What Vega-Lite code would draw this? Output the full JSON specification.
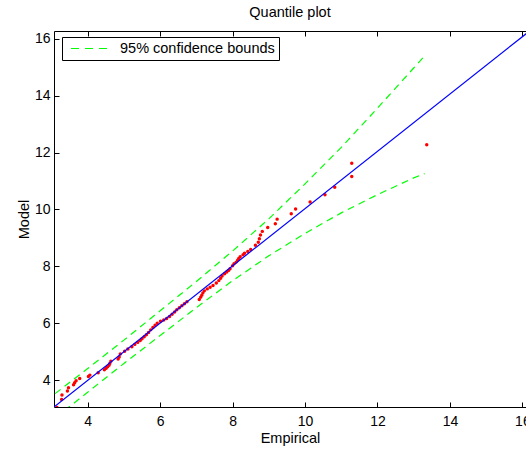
{
  "$schema": "https://vega.github.io/schema/vega-lite/v6.json",
  "width": 472,
  "height": 376,
  "autosize": {"type": "none"},
  "padding": {"left": 54, "top": 31, "right": 0, "bottom": 42},
  "title": {"text": "Quantile plot", "fontSize": 14.5, "fontWeight": "normal", "font": "Liberation Sans", "color": "black", "offset": 10},
  "datasets": {
    "pts": [
      {"x": 3.15, "y": 3.04}, {"x": 3.28, "y": 3.32}, {"x": 3.29, "y": 3.48}, {"x": 3.44, "y": 3.62},
      {"x": 3.47, "y": 3.74}, {"x": 3.61, "y": 3.84}, {"x": 3.64, "y": 3.91}, {"x": 3.68, "y": 3.98},
      {"x": 3.78, "y": 4.06}, {"x": 4.02, "y": 4.13}, {"x": 4.06, "y": 4.18}, {"x": 4.29, "y": 4.26},
      {"x": 4.46, "y": 4.37}, {"x": 4.51, "y": 4.42}, {"x": 4.55, "y": 4.47}, {"x": 4.59, "y": 4.53},
      {"x": 4.61, "y": 4.59}, {"x": 4.64, "y": 4.67}, {"x": 4.84, "y": 4.75}, {"x": 4.87, "y": 4.82},
      {"x": 4.9, "y": 4.92}, {"x": 5.02, "y": 5.02}, {"x": 5.11, "y": 5.1}, {"x": 5.22, "y": 5.18},
      {"x": 5.3, "y": 5.26}, {"x": 5.38, "y": 5.33}, {"x": 5.45, "y": 5.4}, {"x": 5.5, "y": 5.46},
      {"x": 5.56, "y": 5.53}, {"x": 5.62, "y": 5.6}, {"x": 5.68, "y": 5.68}, {"x": 5.74, "y": 5.77},
      {"x": 5.8, "y": 5.85}, {"x": 5.86, "y": 5.93}, {"x": 5.92, "y": 6.0}, {"x": 6.01, "y": 6.07},
      {"x": 6.1, "y": 6.12}, {"x": 6.18, "y": 6.17}, {"x": 6.26, "y": 6.24}, {"x": 6.33, "y": 6.32},
      {"x": 6.4, "y": 6.4}, {"x": 6.46, "y": 6.48}, {"x": 6.53, "y": 6.55}, {"x": 6.6, "y": 6.62},
      {"x": 6.67, "y": 6.69}, {"x": 6.74, "y": 6.76}, {"x": 7.08, "y": 6.84}, {"x": 7.12, "y": 6.92},
      {"x": 7.15, "y": 6.99}, {"x": 7.18, "y": 7.07}, {"x": 7.22, "y": 7.14}, {"x": 7.3, "y": 7.21},
      {"x": 7.38, "y": 7.27}, {"x": 7.46, "y": 7.33}, {"x": 7.55, "y": 7.42}, {"x": 7.62, "y": 7.5},
      {"x": 7.67, "y": 7.58}, {"x": 7.71, "y": 7.66}, {"x": 7.78, "y": 7.74}, {"x": 7.84, "y": 7.8},
      {"x": 7.89, "y": 7.86}, {"x": 7.93, "y": 7.92}, {"x": 8.0, "y": 8.02}, {"x": 8.04, "y": 8.09},
      {"x": 8.1, "y": 8.15}, {"x": 8.14, "y": 8.22}, {"x": 8.17, "y": 8.28}, {"x": 8.21, "y": 8.34},
      {"x": 8.29, "y": 8.41}, {"x": 8.33, "y": 8.46}, {"x": 8.42, "y": 8.52}, {"x": 8.5, "y": 8.59},
      {"x": 8.63, "y": 8.74}, {"x": 8.71, "y": 8.85}, {"x": 8.74, "y": 8.97}, {"x": 8.77, "y": 9.1},
      {"x": 8.82, "y": 9.23}, {"x": 8.97, "y": 9.37}, {"x": 9.18, "y": 9.5}, {"x": 9.23, "y": 9.66},
      {"x": 9.62, "y": 9.85}, {"x": 9.74, "y": 10.02}, {"x": 10.14, "y": 10.26}, {"x": 10.55, "y": 10.52},
      {"x": 10.82, "y": 10.78}, {"x": 11.29, "y": 11.16}, {"x": 11.29, "y": 11.62}, {"x": 13.36, "y": 12.27}
    ],
    "ref": [
      {"x": 3.0, "y": 2.99}, {"x": 16.3, "y": 16.37}
    ],
    "bounds": [
      {"x": 3.1, "y": 3.53, "bound": "upper", "series": "95% confidence bounds"},
      {"x": 4, "y": 4.41, "bound": "upper", "series": "95% confidence bounds"},
      {"x": 5, "y": 5.41, "bound": "upper", "series": "95% confidence bounds"},
      {"x": 6, "y": 6.44, "bound": "upper", "series": "95% confidence bounds"},
      {"x": 7, "y": 7.47, "bound": "upper", "series": "95% confidence bounds"},
      {"x": 8, "y": 8.54, "bound": "upper", "series": "95% confidence bounds"},
      {"x": 9, "y": 9.67, "bound": "upper", "series": "95% confidence bounds"},
      {"x": 10, "y": 10.9, "bound": "upper", "series": "95% confidence bounds"},
      {"x": 11, "y": 12.18, "bound": "upper", "series": "95% confidence bounds"},
      {"x": 12, "y": 13.56, "bound": "upper", "series": "95% confidence bounds"},
      {"x": 13, "y": 14.97, "bound": "upper", "series": "95% confidence bounds"},
      {"x": 13.3, "y": 15.39, "bound": "upper", "series": "95% confidence bounds"},
      {"x": 3.1, "y": 2.67, "bound": "lower", "series": "95% confidence bounds"},
      {"x": 4, "y": 3.58, "bound": "lower", "series": "95% confidence bounds"},
      {"x": 5, "y": 4.59, "bound": "lower", "series": "95% confidence bounds"},
      {"x": 6, "y": 5.57, "bound": "lower", "series": "95% confidence bounds"},
      {"x": 7, "y": 6.55, "bound": "lower", "series": "95% confidence bounds"},
      {"x": 8, "y": 7.5, "bound": "lower", "series": "95% confidence bounds"},
      {"x": 9, "y": 8.37, "bound": "lower", "series": "95% confidence bounds"},
      {"x": 10, "y": 9.16, "bound": "lower", "series": "95% confidence bounds"},
      {"x": 11, "y": 9.88, "bound": "lower", "series": "95% confidence bounds"},
      {"x": 12, "y": 10.52, "bound": "lower", "series": "95% confidence bounds"},
      {"x": 13, "y": 11.11, "bound": "lower", "series": "95% confidence bounds"},
      {"x": 13.3, "y": 11.26, "bound": "lower", "series": "95% confidence bounds"}
    ]
  },
  "layer": [
    {
      "data": {"name": "pts"},
      "mark": {"type": "circle", "color": "#ff0000", "opacity": 1, "size": 12, "clip": true},
      "encoding": {
        "x": {"field": "x", "type": "quantitative",
              "scale": {"domain": [3.07, 16.1], "nice": false, "zero": false},
              "axis": {"orient": "bottom", "values": [4, 6, 8, 10, 12, 14, 16], "title": "Empirical", "labelPadding": 12, "titlePadding": 3}},
        "y": {"field": "y", "type": "quantitative",
              "scale": {"domain": [3.06, 16.27], "nice": false, "zero": false},
              "axis": {"orient": "left", "values": [4, 6, 8, 10, 12, 14, 16], "title": "Model", "labelPadding": 9, "titlePadding": 3}}
      }
    },
    {
      "data": {"name": "bounds"},
      "mark": {"type": "line", "strokeWidth": 1.2, "strokeDash": [7, 5], "clip": true},
      "encoding": {
        "x": {"field": "x", "type": "quantitative", "axis": null},
        "y": {"field": "y", "type": "quantitative", "axis": null},
        "detail": {"field": "bound"},
        "color": {"field": "series", "type": "nominal",
                  "scale": {"domain": ["95% confidence bounds"], "range": ["#00ff00"]},
                  "legend": {"title": null}}
      }
    },
    {
      "data": {"name": "ref"},
      "mark": {"type": "line", "color": "#0000ff", "strokeWidth": 1.2, "clip": true},
      "encoding": {
        "x": {"field": "x", "type": "quantitative",
              "axis": {"orient": "top", "values": [4, 6, 8, 10, 12, 14, 16], "labels": false, "title": null}},
        "y": {"field": "y", "type": "quantitative", "axis": null}
      }
    }
  ],
  "resolve": {"axis": {"x": "independent", "y": "independent"}},
  "config": {
    "font": "Liberation Sans",
    "view": {"stroke": null},
    "axis": {
      "grid": false, "domainColor": "black", "tickColor": "black", "labelColor": "black", "titleColor": "black",
      "labelFont": "Liberation Sans", "titleFont": "Liberation Sans", "labelFontSize": 14, "titleFontSize": 14.5,
      "titleFontWeight": "normal", "tickSize": -5, "domainWidth": 1, "tickWidth": 1
    },
    "legend": {
      "orient": "none", "legendX": 8, "legendY": 6, "strokeColor": "black", "fillColor": "white",
      "padding": 4, "symbolOffset": 4, "symbolType": "stroke", "symbolSize": 1764, "symbolStrokeWidth": 1.2,
      "symbolDash": [8, 6], "clipHeight": 15, "labelFontSize": 14.5, "labelFont": "Liberation Sans", "labelColor": "black", "labelOffset": 6
    }
  }
}
